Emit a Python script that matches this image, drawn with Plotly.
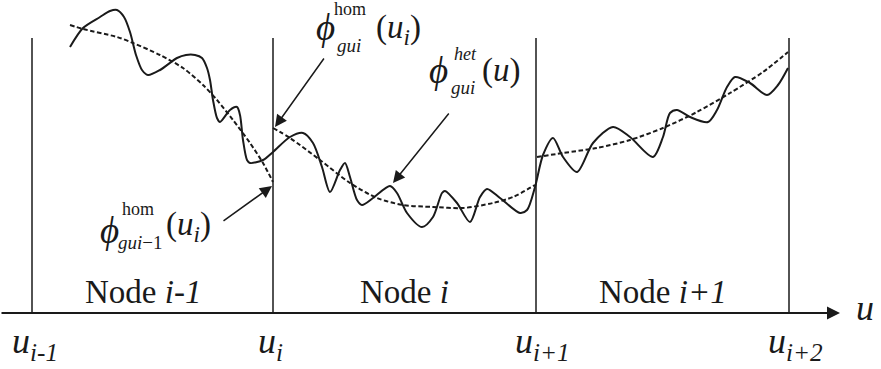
import plotly.graph_objects as go

# ---- data (diagram coordinates: u along horizontal, phi measured downward on screen) ----
node_u = [32, 273, 536, 789]
u_tick_labels = ["<i>u</i><sub><i>i-1</i></sub>", "<i>u</i><sub><i>i</i></sub>",
                 "<i>u</i><sub><i>i+1</i></sub>", "<i>u</i><sub><i>i+2</i></sub>"]
node_labels = ["Node <i>i-1</i>", "Node <i>i</i>", "Node <i>i+1</i>"]
axis_level = 313
node_top = 38

het_u = [70, 83, 100, 110, 117, 124, 130, 136, 142, 148, 160, 177, 186, 195, 202, 207, 210, 213, 217, 220,
         230, 237, 240, 243, 247, 250, 263, 273, 290, 303, 313, 322, 330, 340, 345, 350, 357, 362,
         373, 390, 397, 407, 422, 433, 442, 445, 457, 470, 480, 487, 500, 520, 527, 535, 543, 553,
         563, 577, 593, 613, 630, 653, 663, 670, 677, 690, 708, 717, 727, 735, 750, 767, 778, 788]
het_phi = [47, 28, 17, 11, 10, 17, 32, 55, 70, 75, 70, 58, 55, 55, 58, 68, 80, 100, 118, 122,
           110, 107, 115, 140, 160, 163, 160, 152, 137, 133, 143, 167, 192, 170, 163, 177, 200, 205,
           198, 186, 193, 213, 227, 217, 193, 191, 203, 222, 197, 189, 198, 213, 210, 187, 155, 138,
           157, 172, 143, 127, 137, 157, 137, 113, 110, 117, 122, 110, 87, 77, 83, 95, 85, 68]

hom1_u = [70, 83, 117, 133, 160, 183, 203, 217, 233, 250, 263, 273]
hom1_phi = [25, 29, 37, 43, 55, 68, 85, 100, 120, 143, 163, 182]
hom2_u = [273, 290, 320, 350, 377, 403, 433, 463, 493, 513, 535]
hom2_phi = [128, 138, 160, 183, 198, 205, 207, 208, 203, 197, 185]
hom3_u = [537, 563, 597, 630, 663, 697, 730, 763, 788]
hom3_phi = [157, 153, 148, 140, 128, 112, 93, 72, 52]

INK = "#1a1a1a"
SERIF = "Liberation Serif"

fig = go.Figure()

# node boundaries
vx, vy = [], []
for u in node_u:
    vx += [u, u, None]
    vy += [node_top, axis_level, None]
fig.add_trace(go.Scatter(x=vx, y=vy, mode="lines", line=dict(color=INK, width=1.5),
                         hoverinfo="skip"))

# homogenised (dashed) segments
for hu, hp in [(hom1_u, hom1_phi), (hom2_u, hom2_phi), (hom3_u, hom3_phi)]:
    fig.add_trace(go.Scatter(x=hu, y=hp, mode="lines",
                             line=dict(color=INK, width=2, dash="4.5px,2.5px",
                                       shape="spline", smoothing=0.8),
                             hoverinfo="skip"))

# heterogeneous (solid) curve
fig.add_trace(go.Scatter(x=het_u, y=het_phi, mode="lines",
                         line=dict(color=INK, width=2, shape="spline", smoothing=0.8),
                         hoverinfo="skip"))

ann = []

def txt(x, y, t, size, xanchor="center"):
    ann.append(dict(x=x, y=y, xref="x", yref="y", text=t, showarrow=False,
                    font=dict(family=SERIF, size=size, color=INK),
                    xanchor=xanchor, yanchor="middle"))

def arrow(x0, y0, x1, y1, width=1.5, size=1.6):
    ann.append(dict(x=x1, y=y1, ax=x0, ay=y0, xref="x", yref="y", axref="x", ayref="y",
                    text="", showarrow=True, arrowhead=2, arrowsize=size, arrowwidth=width,
                    arrowcolor=INK, standoff=0, startstandoff=0))

# horizontal axis with arrow
arrow(0, axis_level, 840, axis_level, width=2, size=1.3)
txt(865, axis_level - 5, "<i>u</i>", 36)

# node labels
for i, lab in enumerate(node_labels):
    txt((node_u[i] + node_u[i + 1]) / 2 + (-10 if i == 0 else 0), 292, lab, 33)

# u tick labels
tick_x = [35, 270, 542, 795]
for x, lab in zip(tick_x, u_tick_labels):
    txt(x, 343, lab, 36)

# phi_gui^hom(u_i)
txt(325, 27, "<i>ϕ</i>", 37)
txt(350, 9, "hom", 18)
txt(349, 45, "<i>gui</i>", 19)
txt(398, 29, "(<i>u</i><sub><i>i</i></sub>)", 33)

# phi_gui^het(u)
txt(438, 70, "<i>ϕ</i>", 37)
txt(465, 54, "<i>het</i>", 18)
txt(463, 87, "<i>gui</i>", 19)
txt(501, 70, "(<i>u</i>)", 33)

# phi_gui-1^hom(u_i)
txt(109, 230, "<i>ϕ</i>", 37)
txt(138, 209, "hom", 18)
txt(140, 242, "<i>gui</i>−1", 19)
txt(188, 226, "(<i>u</i><sub><i>i</i></sub>)", 33)

# pointer arrows
arrow(325, 57, 275, 127)
arrow(222, 222, 272, 186)
arrow(450, 112, 393, 183)

fig.update_layout(
    width=881, height=369,
    margin=dict(l=0, r=0, t=0, b=0),
    paper_bgcolor="white", plot_bgcolor="white",
    showlegend=False,
    xaxis=dict(range=[0, 881], visible=False, fixedrange=True),
    yaxis=dict(range=[369, 0], visible=False, fixedrange=True),
    annotations=ann,
)

fig.write_html("out.html", config={"displayModeBar": False},
               post_script="document.body.style.margin='0px';")
